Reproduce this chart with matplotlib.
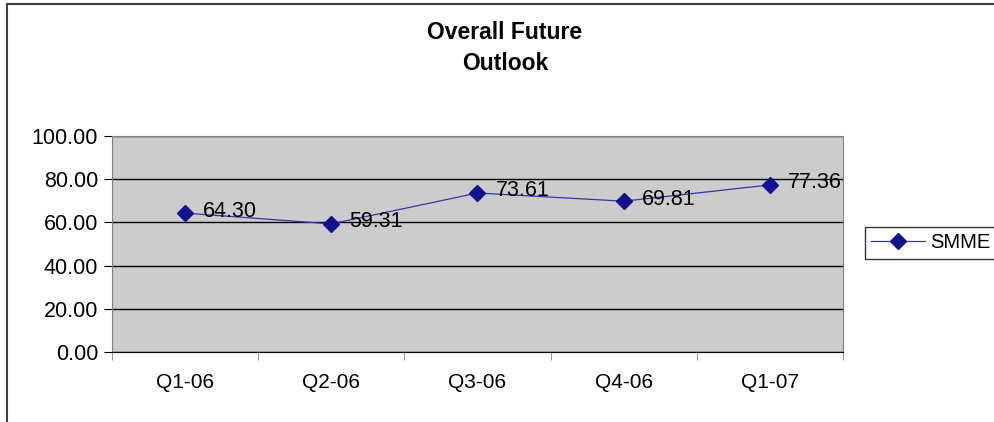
import matplotlib.pyplot as plt
from matplotlib.lines import Line2D

# Quarterly outlook index
quarters = ['Q1-06', 'Q2-06', 'Q3-06', 'Q4-06', 'Q1-07']
smme = [64.30, 59.31, 73.61, 69.81, 77.36]
y_ticks = [0, 20, 40, 60, 80, 100]

plt.rcParams['font.family'] = ['Liberation Sans', 'DejaVu Sans']

W, H = 995, 422
fig = plt.figure(figsize=(W / 100, H / 100), dpi=100)
ax = fig.add_axes([112 / W, 1 - 352 / H, (843 - 112) / W, (352 - 136) / H])
ax.set_facecolor('#cccccc')

x = list(range(len(quarters)))
ax.plot(x, smme, color='#3535a8', lw=0.9, marker='D', ms=8,
        mfc='#12128e', mec='#12128e', label='SMME', zorder=3)
for xi, v in zip(x, smme):
    ax.annotate(f'{v:.2f}', (xi, v), xytext=(13, 1.5), textcoords='offset points',
                va='center', ha='left', fontsize=15.5, zorder=4)

ax.set_xlim(-0.5, len(quarters) - 0.5)
ax.set_ylim(0, 100)
ax.set_yticks(y_ticks)
ax.set_yticklabels([f'{t:.2f}' for t in y_ticks], fontsize=15.5)
ax.yaxis.grid(True, color='black', lw=1)
ax.set_axisbelow(True)

# category labels centred, tick marks on category boundaries
ax.set_xticks(x)
ax.set_xticklabels(quarters, fontsize=15)
ax.tick_params(axis='x', length=0, pad=15)
ax.set_xticks([i - 0.5 for i in range(len(quarters) + 1)], minor=True)
ax.tick_params(axis='x', which='minor', length=6, color='#808080', direction='out')
ax.tick_params(axis='y', length=6, color='black', pad=4)

for side in ['left', 'top', 'right']:
    ax.spines[side].set_color('#808080')
ax.spines['bottom'].set_color('black')

fig.text(505 / W, 1 - 48 / H, 'Overall Future\nOutlook', ha='center', va='center',
         fontsize=16.5, fontweight='bold', linespacing=1.45)

leg = fig.legend(loc='center left', bbox_to_anchor=(865 / W, 1 - 243 / H),
                 fontsize=14.5, frameon=True, fancybox=False, edgecolor='black',
                 handlelength=2.7, handletextpad=0.25, borderpad=0.3,
                 borderaxespad=0)
leg.get_frame().set_linewidth(1)

# outer chart border (left and top edges)
fig.add_artist(Line2D([7 / W, 7 / W], [0, 1 - 4 / H], color='#404040', lw=1.5))
fig.add_artist(Line2D([7 / W, 1], [1 - 4 / H, 1 - 4 / H], color='#404040', lw=1.5))

fig.savefig('out.png', dpi=100)
